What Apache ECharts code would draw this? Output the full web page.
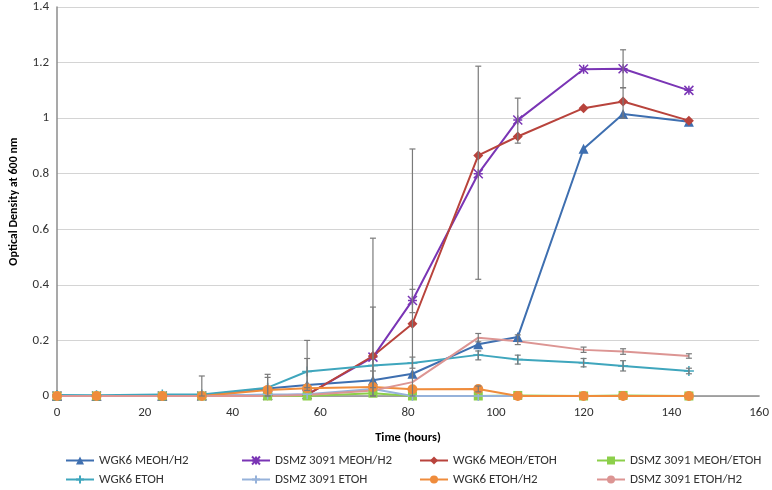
<!DOCTYPE html>
<html>
<head>
<meta charset="utf-8">
<script src="https://cdn.jsdelivr.net/npm/echarts@6/dist/echarts.min.js"></script>
<style>
  html, body { margin: 0; padding: 0; background: #fff; }
  #chart { width: 772px; height: 490px; }
</style>
</head>
<body>
<div id="chart"></div>
<script>
// sampling times (hours)
const hours = [0, 9, 24, 33, 48, 57, 72, 81, 96, 105, 120, 129, 144]

const wgk6MeohH2 = [0, 0, 0, 0.003, 0.027, 0.04, 0.057, 0.08, 0.186, 0.212, 0.89, 1.015, 0.987]
const dsmzMeohH2 = [0, 0, 0, 0, 0.002, 0.005, 0.14, 0.344, 0.80, 0.993, 1.176, 1.178, 1.10]
const wgk6MeohEtoh = [0, 0, 0, 0, 0.002, 0.004, 0.144, 0.26, 0.866, 0.934, 1.036, 1.06, 0.991]
const dsmzMeohEtoh = [0, 0, 0, 0, 0, 0, 0.01, 0, 0, 0.002, 0, 0.002, 0]
const wgk6Etoh = [0.004, 0.003, 0.005, 0.005, 0.03, 0.088, 0.11, 0.119, 0.148, 0.131, 0.12, 0.108, 0.09]
const dsmzEtoh = [0, 0, 0, 0, 0.005, 0.006, 0.025, 0, 0, 0, 0, 0, 0]
const wgk6EtohH2 = [0, 0, 0, 0, 0.022, 0.028, 0.032, 0.024, 0.025, 0, 0, 0, 0]
const dsmzEtohH2 = [0, 0, 0, 0, 0, 0.004, 0.02, 0.05, 0.21, 0.197, 0.166, 0.16, 0.144]

// error bars: [hour, low, high]
const errorBars = [
  [33, 0, 0.072],
  [48, 0, 0.078], [48, 0, 0.067],
  [57, 0.02, 0.20], [57, 0.03, 0.135],
  [72, 0, 0.568], [72, 0, 0.32], [72, 0.03, 0.09],
  [81, 0, 0.889], [81, 0.30, 0.384], [81, 0.1, 0.14],
  [96, 0.42, 1.187], [96, 0.195, 0.225], [96, 0.13, 0.162], [96, 0.015, 0.036],
  [105, 0.91, 1.072], [105, 0.115, 0.147], [105, 0.185, 0.22],
  [120, 0.105, 0.135], [120, 0.157, 0.176],
  [129, 1.109, 1.246], [129, 1.0, 1.11], [129, 0.09, 0.127], [129, 0.15, 0.17],
  [144, 0.08, 0.1], [144, 0.136, 0.152]
]

const xTicks = [0, 20, 40, 60, 80, 100, 120, 140, 160]

const star = 'path://M0,0L10,10M10,0L0,10M5,0L5,10M0,5L10,5'
const plus = 'path://M5,0L5,10M0,5L10,5'

const font = 'Carlito, Lato, sans-serif'
const pair = arr => hours.map((h, i) => [h, arr[i]])

function mkSeries (name, data, color, symbol, size, stroke) {
  return {
    name,
    type: 'line',
    data: pair(data),
    symbol,
    symbolSize: size,
    lineStyle: { color, width: 2 },
    itemStyle: stroke
      ? { color, borderColor: color, borderWidth: 1.5 }
      : { color },
    z: 3
  }
}

const series = [
  mkSeries('WGK6 MEOH/H2', wgk6MeohH2, '#3e6fb0', 'triangle', 10),
  mkSeries('DSMZ 3091 MEOH/H2', dsmzMeohH2, '#7a35b5', star, 9, true),
  mkSeries('WGK6 MEOH/ETOH', wgk6MeohEtoh, '#b8433c', 'diamond', 10),
  mkSeries('DSMZ 3091 MEOH/ETOH', dsmzMeohEtoh, '#8ccf4a', 'rect', 9),
  mkSeries('WGK6 ETOH', wgk6Etoh, '#3fa6bd', plus, 10, true),
  mkSeries('DSMZ 3091 ETOH', dsmzEtoh, '#96b2da', plus, 10, true),
  mkSeries('WGK6 ETOH/H2', wgk6EtohH2, '#ef8c3c', 'circle', 10),
  mkSeries('DSMZ 3091 ETOH/H2', dsmzEtohH2, '#dc9593', 'none', 0)
]

series.push({
  type: 'custom',
  name: 'err',
  data: errorBars,
  z: 4,
  encode: { x: 0, y: [1, 2] },
  renderItem (params, api) {
    const x = api.value(0)
    const lo = api.coord([x, api.value(1)])
    const hi = api.coord([x, api.value(2)])
    const w = 3
    const st = { stroke: '#7a7a7a', lineWidth: 1.2 }
    return {
      type: 'group',
      children: [
        { type: 'line', shape: { x1: lo[0], y1: lo[1], x2: hi[0], y2: hi[1] }, style: st },
        { type: 'line', shape: { x1: hi[0] - w, y1: hi[1], x2: hi[0] + w, y2: hi[1] }, style: st },
        { type: 'line', shape: { x1: lo[0] - w, y1: lo[1], x2: lo[0] + w, y2: lo[1] }, style: st }
      ]
    }
  }
})

const legendCols = [60, 236, 414, 591]
const legendRows = [449, 468]
const legends = series.slice(0, 8).map((s, i) => ({
  data: [s.name],
  left: legendCols[i % 4],
  top: legendRows[Math.floor(i / 4)],
  itemWidth: 28,
  itemHeight: 10,
  itemGap: 7,
  textStyle: { fontFamily: font, fontSize: 13, color: '#333' },
  selectedMode: false
}))

const chart = echarts.init(document.getElementById('chart'))
chart.setOption({
  animation: false,
  grid: { left: 54, right: 12, top: 7, bottom: 94 },
  legend: legends,
  xAxis: {
    type: 'value',
    min: 0,
    max: 160,
    interval: 20,
    name: 'Time (hours)',
    nameLocation: 'middle',
    nameGap: 35,
    nameTextStyle: { fontFamily: font, fontSize: 12.5, fontWeight: 'bold', color: '#000' },
    axisLine: { lineStyle: { color: '#8c8c8c', width: 1.5 } },
    axisTick: { show: false },
    splitLine: { show: false },
    axisLabel: {
      fontFamily: font, fontSize: 13, color: '#333', margin: 10,
      customValues: xTicks
    }
  },
  yAxis: {
    type: 'value',
    min: 0,
    max: 1.4,
    interval: 0.2,
    name: 'Optical Density at 600 nm',
    nameLocation: 'middle',
    nameGap: 37,
    nameTextStyle: { fontFamily: font, fontSize: 12, fontWeight: 'bold', color: '#000' },
    axisLine: { show: true, lineStyle: { color: '#8c8c8c', width: 1.5 } },
    axisTick: { show: false },
    splitLine: { lineStyle: { color: '#d4d4d4', width: 1 } },
    axisLabel: { fontFamily: font, fontSize: 13, color: '#333', margin: 8 }
  },
  series
})
</script>
</body>
</html>
